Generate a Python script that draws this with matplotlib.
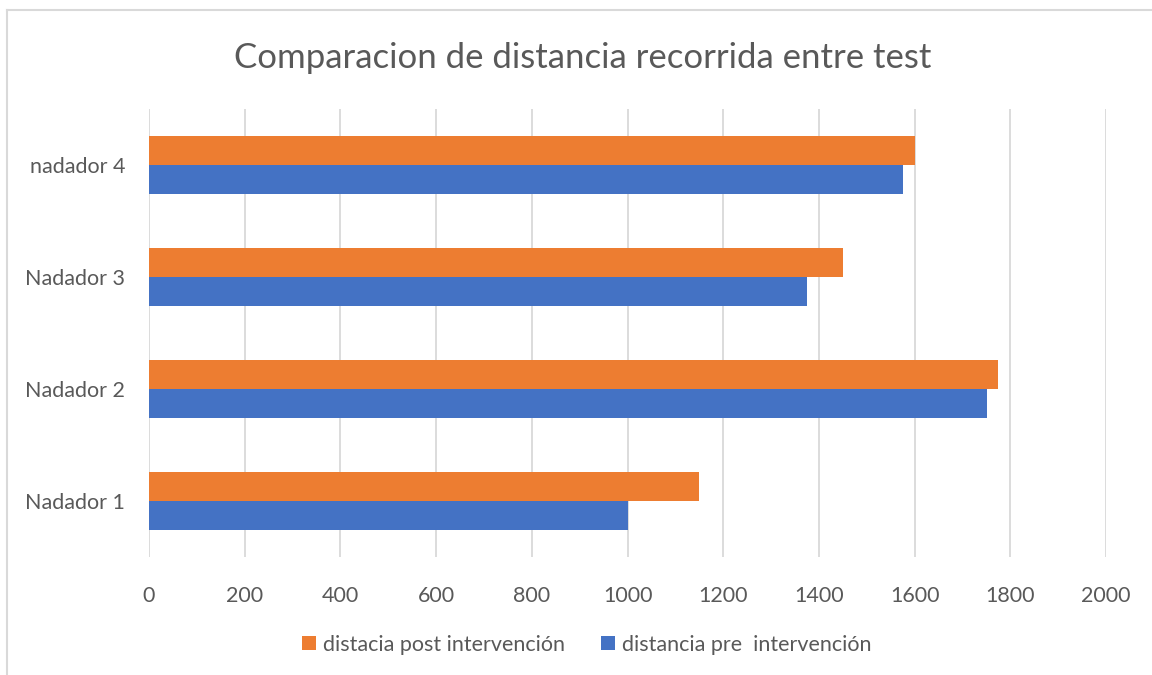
import matplotlib
matplotlib.use('Agg')
import matplotlib.pyplot as plt
from matplotlib.lines import Line2D
import numpy as np

plt.rcParams['font.family'] = ['Lato', 'DejaVu Sans']

nadadores = ['Nadador 1', 'Nadador 2', 'Nadador 3', 'nadador 4']
pre = [1000, 1750, 1375, 1575]    # distancia pre  intervención
post = [1150, 1775, 1450, 1600]   # distacia post intervención
xticks = [0, 200, 400, 600, 800, 1000, 1200, 1400, 1600, 1800, 2000]

gris = '#595959'
fig = plt.figure(figsize=(11.52, 6.75), dpi=100)
ax = fig.add_axes([0.1293, 0.1748, 0.8309, 0.6637])

y = np.arange(len(nadadores))
h = 0.257
ax.barh(y - h / 2, pre, height=h, color='#4472C4', label='distancia pre  intervención', zorder=3)
ax.barh(y + h / 2, post, height=h, color='#ED7D31', label='distacia post intervención', zorder=3)

ax.set_xlim(0, 2000)
ax.set_ylim(-0.5, 3.5)
ax.set_xticks(xticks)
ax.set_yticks(y)
ax.set_yticklabels(nadadores)
ax.tick_params(axis='both', length=0, labelsize=15.5, colors=gris)
ax.tick_params(axis='x', pad=21)
ax.tick_params(axis='y', pad=17)
ax.grid(axis='x', color='#D9D9D9', linewidth=1.3, zorder=0)
for s in ax.spines.values():
    s.set_visible(False)

fig.text(0.506, 0.914, 'Comparacion de distancia recorrida entre test',
         ha='center', va='center', fontsize=25, color=gris)

handles, labels = ax.get_legend_handles_labels()
leg = fig.legend(handles[::-1], labels[::-1], loc='center', bbox_to_anchor=(0.5095, 0.045),
                 ncol=2, frameon=False, fontsize=15.5, handlelength=0.65, handleheight=0.65,
                 handletextpad=0.3, columnspacing=1.7)
for t in leg.get_texts():
    t.set_color(gris)

# marco del grafico
fig.add_artist(Line2D([7 / 1152, 7 / 1152], [0, 1 - 10 / 675], color='#D9D9D9', lw=1.5, transform=fig.transFigure))
fig.add_artist(Line2D([7 / 1152, 1], [1 - 10 / 675, 1 - 10 / 675], color='#D9D9D9', lw=1.5, transform=fig.transFigure))

plt.savefig('out.png', dpi=100)
